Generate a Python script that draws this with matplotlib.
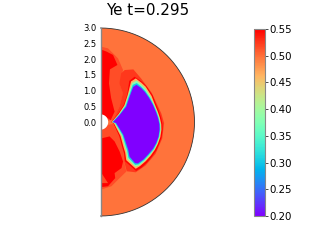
import numpy as np
import matplotlib
matplotlib.use('Agg')
import matplotlib.pyplot as plt
from matplotlib.cm import ScalarMappable
from matplotlib.colors import Normalize

title = 'Ye t=0.295'
y_ticks = [0.0, 0.5, 1.0, 1.5, 2.0, 2.5, 3.0]
cbar_ticks = [0.20, 0.25, 0.30, 0.35, 0.40, 0.45, 0.50, 0.55]
r_inner = 0.245
r_outer = 3.0
ye_background = 0.497

# zone of slightly higher Ye next to the axis, upper and lower part (x, z)
ye_zone = 0.515
zone_up_x = [0, 0.24, 0.56, 0.72, 0.61, 0.72, 0.61, 0.40, 0]
zone_up_z = [2.41, 2.35, 2.03, 1.66, 1.23, 0.91, 0.49, 0.07, 0]
zone_lo_x = [0, 0.40, 0.56, 0.72, 0.75, 0.825, 0.56, 0.35, 0]
zone_lo_z = [-0.14, -0.06, -0.35, -0.83, -1.26, -1.58, -1.84, -2.05, -2.16]

# red plumes
ye_plume = 0.55
plume_up_x = [0, 0.186, 0.40, 0.54, 0.30, 0.27, 0.34, 0.45, 0.325, 0.08, 0]
plume_up_z = [2.32, 2.25, 2.14, 1.82, 1.68, 1.23, 0.76, 0.33, 0.06, 0.22, 0.22]
plume_lo_x = [0, 0.29, 0.45, 0.61, 0.72, 0.67, 0.45, 0.47, 0.24, 0]
plume_lo_z = [-0.53, -0.46, -0.62, -0.94, -1.26, -1.47, -1.63, -1.79, -2.05, -2.08]
wedge_x = [0, 0.24, 0]
wedge_z = [-1.58, -1.95, -1.95]

# band around the lobe, angle from +z in degrees and radius
ye_rim = 0.525
rim_th = [23, 25, 32, 43, 60, 82, 91, 105, 120, 134, 145, 152, 149, 139, 122, 94, 80, 51, 38, 26]
rim_r = [1.69, 1.83, 1.98, 1.90, 1.88, 1.96, 2.03, 2.04, 2.03, 2.0, 1.96, 1.78, 1.47, 1.10, 0.66, 0.40, 0.41, 0.78, 1.16, 1.37]

# lobe contours
th_55 = [90, 66, 54, 44, 35, 37, 45, 52, 63, 71, 80, 86, 92, 97, 104, 111, 117, 124, 131, 138, 144, 148, 143, 139, 127, 98]
r_55 = [0.34, 0.60, 0.91, 1.23, 1.6, 1.81, 1.84, 1.86, 1.87, 1.86, 1.90, 1.94, 1.98, 2.0, 2.01, 2.0, 2.0, 1.98, 1.97, 1.96, 1.93, 1.48, 1.25, 1.05, 0.75, 0.42]
th_46 = [90, 67, 55, 45, 37, 39, 46, 52, 63, 71, 80, 86, 92, 97, 104, 111, 117, 124, 131, 138, 143, 146, 141, 137, 125, 97]
r_46 = [0.36, 0.62, 0.93, 1.23, 1.62, 1.79, 1.81, 1.83, 1.83, 1.82, 1.86, 1.90, 1.94, 1.96, 1.97, 1.96, 1.95, 1.93, 1.91, 1.89, 1.87, 1.47, 1.25, 1.07, 0.78, 0.44]
th_38 = [90, 68, 56, 46, 39, 41, 48, 54, 64, 72, 80, 86, 92, 97, 104, 111, 117, 124, 131, 138, 142, 144, 139, 135, 123, 96]
r_38 = [0.37, 0.63, 0.94, 1.23, 1.6, 1.75, 1.77, 1.79, 1.79, 1.80, 1.84, 1.88, 1.92, 1.94, 1.95, 1.94, 1.93, 1.90, 1.88, 1.86, 1.81, 1.46, 1.25, 1.08, 0.8, 0.46]
th_30 = [90, 69, 57.5, 47.5, 41, 43, 49, 55, 64, 72, 80, 86, 92, 97, 104, 111, 117, 124, 131, 138, 141, 142, 137, 133, 121, 95]
r_30 = [0.38, 0.64, 0.95, 1.23, 1.57, 1.70, 1.72, 1.74, 1.76, 1.78, 1.82, 1.86, 1.90, 1.92, 1.93, 1.92, 1.91, 1.87, 1.85, 1.82, 1.76, 1.45, 1.25, 1.09, 0.82, 0.48]
th_20 = [90, 70, 59, 49, 43, 44, 50, 56, 64, 72, 80, 86, 92, 97, 104, 111, 117, 124, 131, 138, 140, 140, 135, 131, 119, 94]
r_20 = [0.40, 0.65, 0.96, 1.23, 1.53, 1.65, 1.69, 1.71, 1.73, 1.76, 1.80, 1.84, 1.88, 1.90, 1.91, 1.90, 1.88, 1.84, 1.82, 1.78, 1.71, 1.44, 1.25, 1.10, 0.83, 0.5]
lobe_levels = [(0.55, th_55, r_55), (0.46, th_46, r_46), (0.38, th_38, r_38), (0.30, th_30, r_30), (0.20, th_20, r_20)]

cmap = plt.get_cmap('rainbow')
norm = Normalize(vmin=0.20, vmax=0.55)


def to_xy(th, r):
    t = np.radians(th)
    return np.array(r) * np.sin(t), np.array(r) * np.cos(t)


fig = plt.figure(figsize=(3.24, 2.43), dpi=100)
ax = fig.add_axes([100.5 / 324, 27 / 243, 94 / 324, 188 / 243])

arc = np.linspace(0, 180, 181)
x, y = to_xy(arc, np.full_like(arc, r_outer))
ax.fill(x, y, color=cmap(norm(ye_background)), lw=0, zorder=1)
ax.plot(x, y, color='#333333', lw=0.6, zorder=5, clip_on=False)

ax.fill(zone_up_x, zone_up_z, color=cmap(norm(ye_zone)), lw=0, zorder=2)
ax.fill(zone_lo_x, zone_lo_z, color=cmap(norm(ye_zone)), lw=0, zorder=2)

x, y = to_xy(rim_th, rim_r)
ax.fill(x, y, color=cmap(norm(ye_rim)), lw=0, zorder=2.5)

ax.fill(plume_up_x, plume_up_z, color=cmap(norm(ye_plume)), lw=0, zorder=3)
ax.fill(plume_lo_x, plume_lo_z, color=cmap(norm(ye_plume)), lw=0, zorder=3)
ax.fill(wedge_x, wedge_z, color=cmap(norm(ye_zone)), lw=0, zorder=3.1)

for i, (level, th_level, r_level) in enumerate(lobe_levels):
    x, y = to_xy(th_level, r_level)
    ax.fill(x, y, color=cmap(norm(level)), lw=0, zorder=4 + i * 0.1)

x, y = to_xy(arc, np.full_like(arc, r_inner))
ax.fill(x, y, color='white', lw=0, zorder=6)

ax.set_xlim(0, 3)
ax.set_ylim(-3, 3)
ax.set_yticks(y_ticks)
ax.set_yticklabels(['%.1f' % v for v in y_ticks], fontsize=6)
ax.set_xticks([])
ax.tick_params(axis='y', length=0, pad=3)
for s in ['top', 'right', 'bottom']:
    ax.spines[s].set_visible(False)
ax.spines['left'].set_color('#888888')
ax.spines['left'].set_linewidth(1.0)
ax.spines['left'].set_zorder(7)
ax.set_title(title, fontsize=10.9, pad=9.5)

cax = fig.add_axes([254 / 324, 27 / 243, 10.5 / 324, 187 / 243])
cb = fig.colorbar(ScalarMappable(norm=norm, cmap=cmap), cax=cax, ticks=cbar_ticks)
cb.ax.set_yticklabels(['%.2f' % v for v in cbar_ticks], fontsize=7.4)
cb.ax.tick_params(length=2, width=0.5, pad=1.5)
cb.outline.set_edgecolor('#888888')
cb.outline.set_linewidth(0.8)

fig.savefig('out.png', dpi=100)
